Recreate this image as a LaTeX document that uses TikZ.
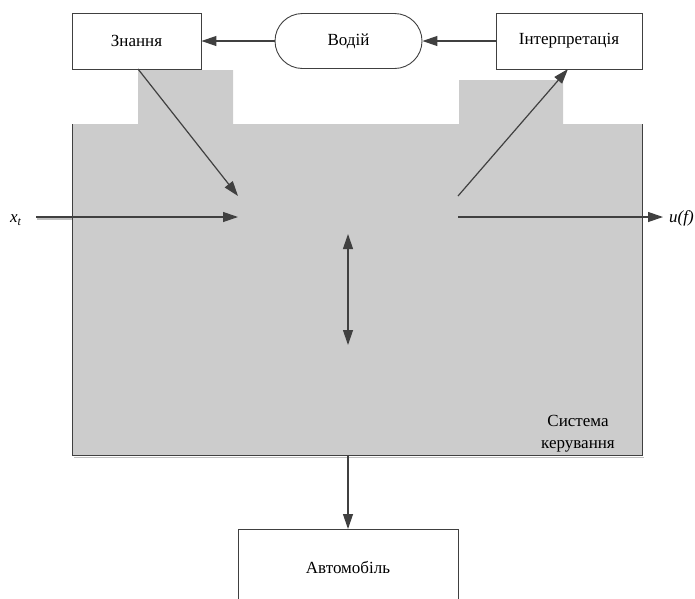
\documentclass[tikz,border=0pt]{standalone}
\usepackage{fontspec}
\setmainfont{Liberation Serif}
\usetikzlibrary{arrows.meta,shapes.misc}
\definecolor{linec}{HTML}{404040}
\definecolor{grayfill}{HTML}{CCCCCC}
\begin{document}
\begin{tikzpicture}[x=1pt,y=-1pt,
  >={Triangle[length=15pt,width=10pt]},
  box/.style={draw=linec,line width=0.9pt,fill=white,inner sep=0pt,font=\fontsize{17}{19}\selectfont},
  conn/.style={draw=linec,line width=1.2pt,->},
  lbl/.style={font=\fontsize{17}{19}\selectfont}]
\useasboundingbox (0,0) rectangle (695,598);
% gray control system shape
\fill[grayfill] (72,124) -- (138,124) -- (138,70) -- (233,70) -- (233,124) -- (459,124) -- (459,80) -- (563,80) -- (563,124) -- (642,124) -- (642,455) -- (72,455) -- cycle;
\draw[linec,line width=0.9pt] (72,124) -- (72,455) -- (642,455) -- (642,124);
\draw[gray!50,line width=1.5pt] (74,457.5) -- (644,457.5);
\node[lbl,align=center] (sys) at (578,434) {Система\\[3pt]керування};
% top nodes
\node[box,minimum width=129pt,minimum height=56pt] (zn) at (136.5,41) {Знання};
\node[box,rounded rectangle,minimum width=147pt,minimum height=55pt] (vod) at (348.5,41) {Водій};
\node[box,minimum width=146pt,minimum height=56pt] (int) at (569,41) {Інтерпретація};
\node[box,minimum width=220pt,minimum height=80pt,anchor=north] (avt) at (348,529) {};
\node[lbl] (avtl) at (348,567) {Автомобіль};
% internal coordinates
\coordinate (inA) at (238,196);
\coordinate (inX) at (238,217);
\coordinate (outI) at (458,196);
\coordinate (outU) at (458,217);
\coordinate (xs) at (36,217);
\coordinate (ue) at (663,217);
\coordinate (v1) at (348,234);
\coordinate (v2) at (348,345);
\coordinate (bot) at (348,455);
\coordinate (znb) at (138,69);
\coordinate (intb) at (568,69);
\node[lbl,anchor=west,inner sep=0pt] (xt) at (10,220) {\textit{x}\textsubscript{\textit{t}}};
\node[lbl,anchor=west,inner sep=0pt] (uf) at (669,218) {\textit{u(f)}};
% connectors
\draw[gray!50,line width=1.5pt] (37,219) -- (72,219);
\draw[conn] (vod.west) -- (zn.east);
\draw[conn] (int.west) -- (vod.east);
\draw[conn] (znb) -- (inA);
\draw[conn] (xs) -- (inX);
\draw[conn] (outI) -- (intb);
\draw[conn] (outU) -- (ue);
\draw[conn,<->] (v1) -- (v2);
\draw[conn] (bot) -- (avt.north);
\end{tikzpicture}
\end{document}
